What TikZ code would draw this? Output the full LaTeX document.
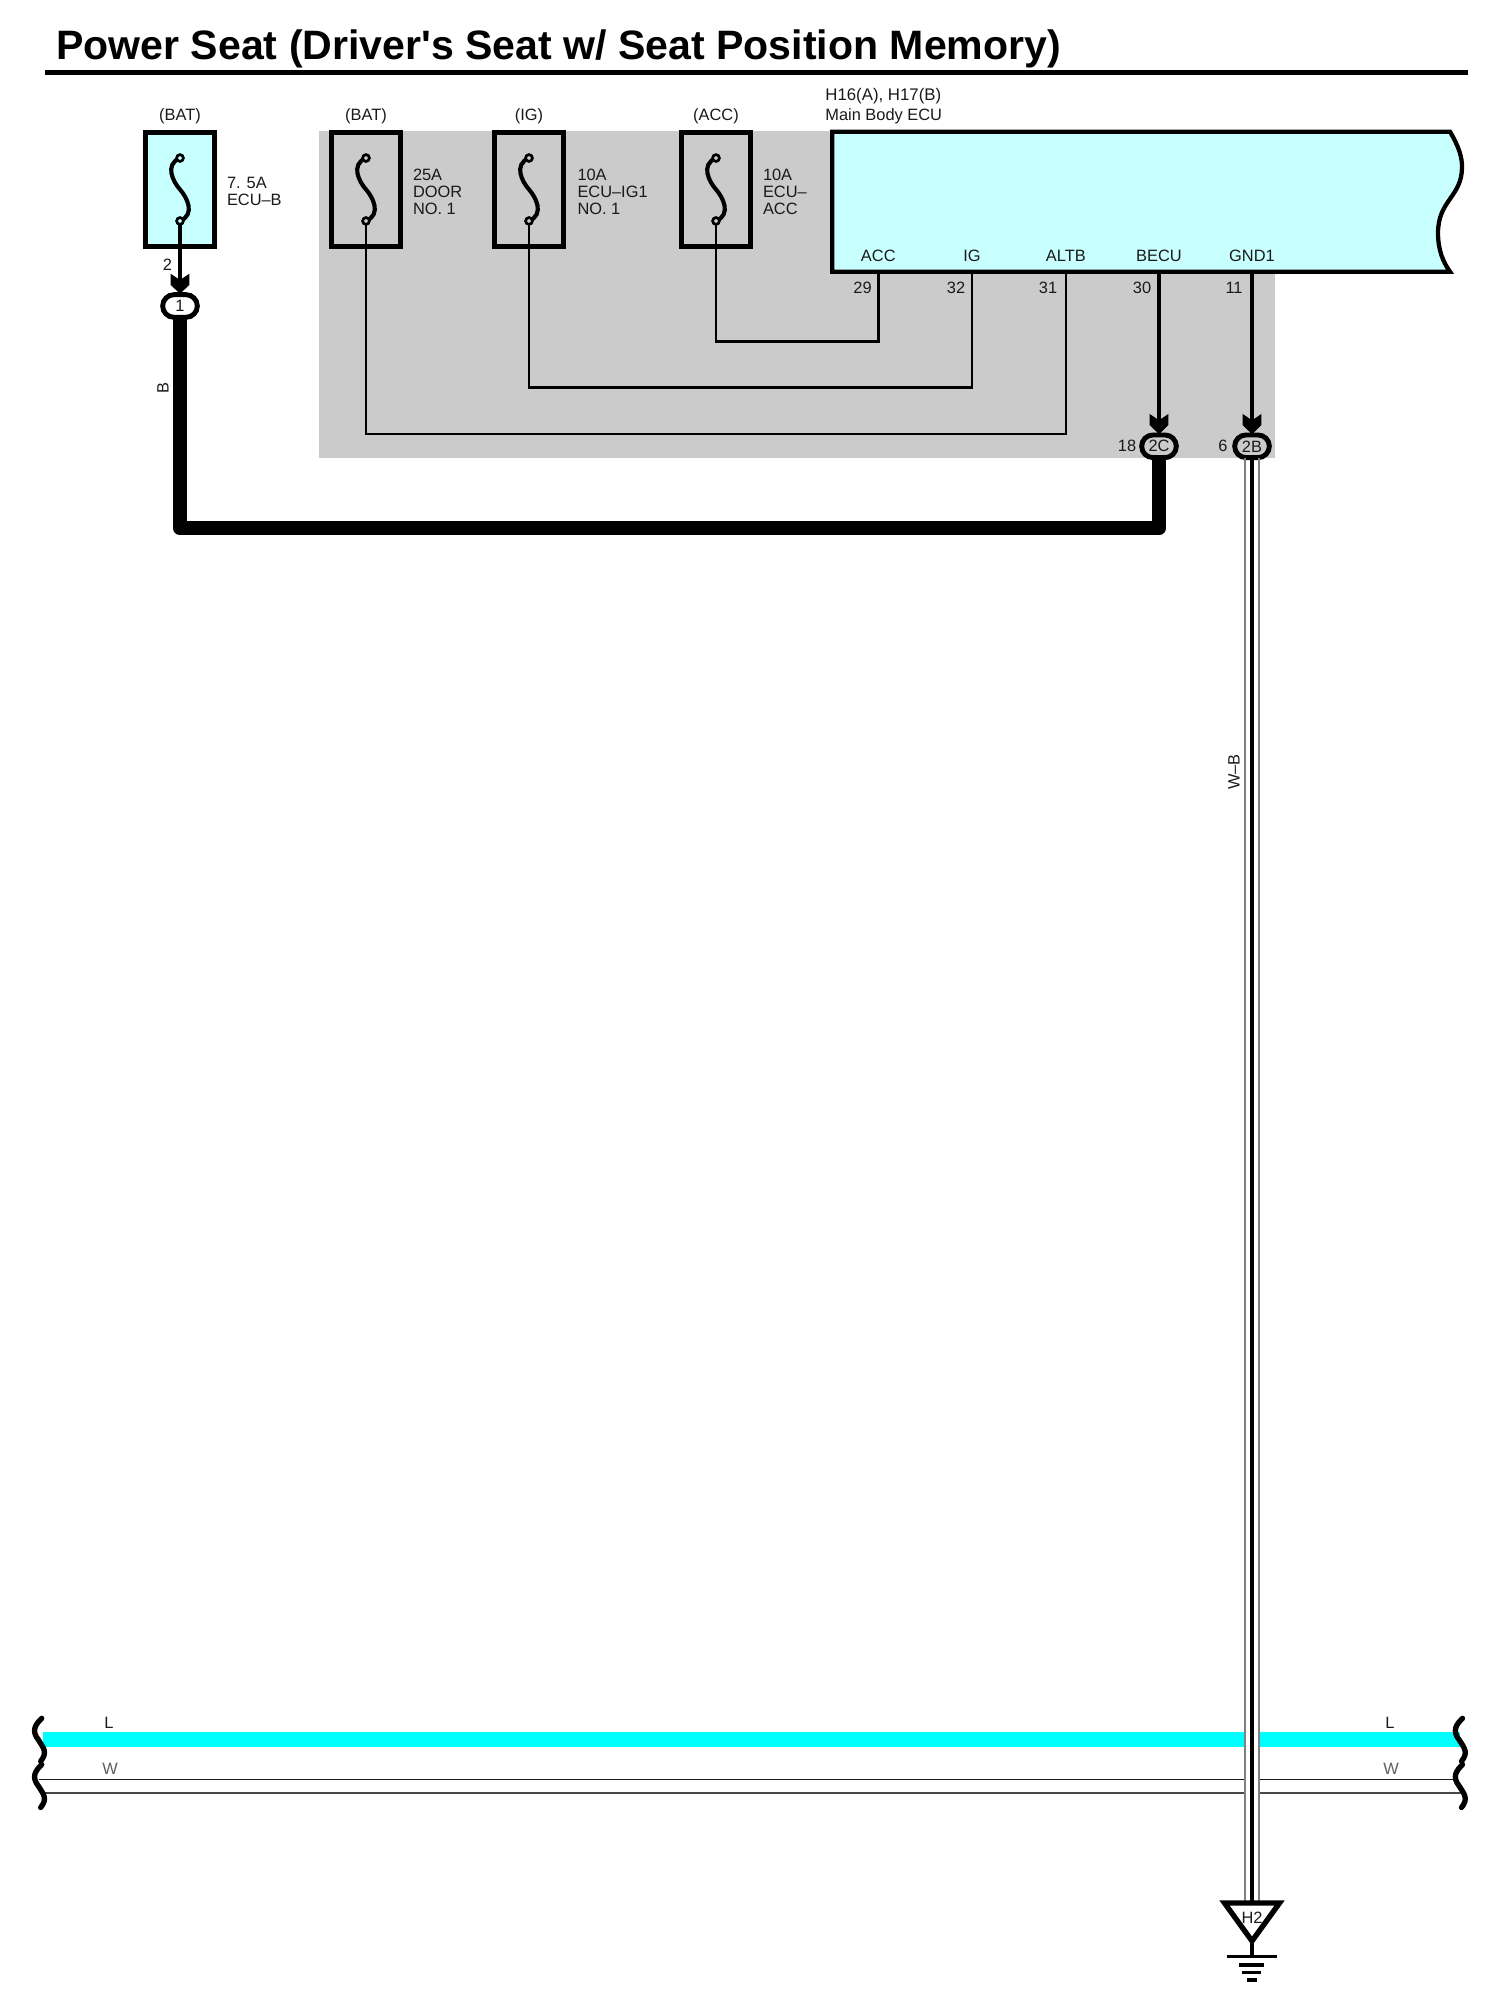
\documentclass[tikz,border=0pt]{standalone}
\usepackage{fontspec}
\setmainfont{Liberation Sans}
\newfontfamily\titlefont{Liberation Sans}
\usetikzlibrary{shapes.misc}
\definecolor{pale}{HTML}{C8FFFF}
\definecolor{zone}{HTML}{CBCBCB}
\definecolor{aqua}{HTML}{00FFFF}
\definecolor{ink}{HTML}{1A1A1A}
\definecolor{wgrey}{HTML}{808080}
\newcommand{\lblfont}{\fontsize{12.3}{12.9}\selectfont}
\tikzset{
  x=0.75pt,y=-0.75pt,
  fusebox/.style={draw=black,line width=3.7pt,minimum width=51.5pt,minimum height=86pt,inner sep=0pt,outer sep=0pt},
  fusepin/.style={circle,draw=black,line width=1.9pt,minimum size=5pt,inner sep=0pt,outer sep=0pt},
  fusecurve/.style={line width=3.1pt,black,line cap=round},
  wire/.style={draw=black,line width=2.1pt},
  heavywire/.style={draw=black,line width=2.4pt},
  thickwire/.style={draw=black,line width=11pt},
  conn/.style={rounded rectangle,draw=black,line width=3.7pt,minimum width=26pt,minimum height=17pt,inner sep=0pt,outer sep=0pt,text=ink,font=\lblfont},
  lbl/.style={inner sep=0pt,outer sep=0pt,text=ink,font=\lblfont},
  lblL/.style={lbl,anchor=west,align=left},
  brk/.style={draw=black,line width=4pt,line cap=round},
  gnd/.style={draw=black,line width=2.3pt},
  shieldout/.style={draw=wgrey,line width=1.5pt},
  shieldin/.style={draw=black,line width=3.2pt},
}
\newcommand{\fusesym}[2]{%
  \node[fusepin,fill=#2] (#1t) at ([yshift=23.6pt]#1.center) {};
  \node[fusepin,fill=#2] (#1b) at ([yshift=-23.6pt]#1.center) {};
  \draw[fusecurve] (#1t.center) .. controls ([xshift=-12pt,yshift=-5pt]#1t.center) and ([xshift=-5pt,yshift=-18pt]#1t.center) .. (#1.center)
     .. controls ([xshift=5pt,yshift=18pt]#1b.center) and ([xshift=12pt,yshift=5pt]#1b.center) .. (#1b.center);
  \node[fusepin,fill=#2] at (#1t.center) {};
  \node[fusepin,fill=#2] at (#1b.center) {};
}
\newcommand{\chev}[1]{%
  \fill[black] ([xshift=-7.1pt,yshift=15.8pt]#1.north) -- ([xshift=-7.1pt,yshift=7.5pt]#1.north) -- ([yshift=0.6pt]#1.north) -- ([xshift=7.1pt,yshift=7.5pt]#1.north) -- ([xshift=7.1pt,yshift=15.8pt]#1.north) -- ([yshift=11pt]#1.north) -- cycle;
}
\newcommand{\brkcurve}[2]{%
  \draw[brk,shift={(#1,#2)}] (0,0) .. controls (-6,6) and (-11,12) .. (-3,22) .. controls (2,30) and (6,34) .. (-1,43);
}
\begin{document}
\begin{tikzpicture}
\path[use as bounding box,fill=white] (0,0) rectangle (1504,1998);
% title
\node[anchor=base west,inner sep=0pt,font=\fontsize{30.8}{32}\titlefont\bfseries] (title) at (56,60) {Power Seat (Driver's Seat w/ Seat Position Memory)};
\coordinate (ruleL) at (45,72.4);
\coordinate (ruleR) at (1468,72.4);
\draw[black,line width=3.8pt] (ruleL) -- (ruleR);
% grey zone
\fill[zone] (319,131.5) rectangle (1275,457.5);
% fuses
\node[fusebox,fill=pale] (f1) at (180,189.5) {};
\node[fusebox] (f2) at (366,189.5) {};
\node[fusebox] (f3) at (529,189.5) {};
\node[fusebox] (f4) at (716,189.5) {};
\fusesym{f1}{pale}
\fusesym{f2}{zone}
\fusesym{f3}{zone}
\fusesym{f4}{zone}
\node[lbl] (s1) at (180,116) {(BAT)};
\node[lbl] (s2) at (366,116) {(BAT)};
\node[lbl] (s3) at (529,116) {(IG)};
\node[lbl] (s4) at (716,116) {(ACC)};
\node[lblL] (n1) at (227,191.5) {7. 5A\\ECU–B};
\node[lblL] (n2) at (413,192) {25A\\DOOR\\NO. 1};
\node[lblL] (n3) at (577.5,192) {10A\\ECU–IG1\\NO. 1};
\node[lblL] (n4) at (763,192) {10A\\ECU–\\ACC};
% ECU
\draw[black,line width=3.2pt,fill=pale] (832.3,131.7) -- (1450,131.7) .. controls (1459,147) and (1462,157) .. (1462,167) .. controls (1462,197) and (1438,200) .. (1438,233) .. controls (1438,250) and (1443,262) .. (1450,271.7) -- (832.3,271.7) -- cycle;
\node[lblL,font=\fontsize{12.6}{14}\selectfont] (ecuH) at (825.4,96.5) {H16(A), H17(B)};
\node[lblL] (ecuN) at (825.4,116) {Main Body ECU};
\coordinate (pACC) at (878.3,271.7);
\coordinate (pIG) at (972,271.7);
\coordinate (pALTB) at (1065.8,271.7);
\coordinate (pBECU) at (1159,271.7);
\coordinate (pGND) at (1252,271.7);
\foreach \nm/\tx/\xx in {tA/ACC/878.3,tB/IG/972,tC/ALTB/1065.8,tD/BECU/1159,tE/GND1/1252}{
  \node[lbl] (\nm) at (\xx,255.5) {\tx};
}
\foreach \nm/\tx/\xx in {uA/29/862.6,uB/32/956,uC/31/1048,uD/30/1142,uE/11/1234}{
  \node[lbl] (\nm) at (\xx,288) {\tx};
}
% wires in zone
\coordinate (j4) at (878.3,341.7);
\coordinate (j3) at (972,387.7);
\coordinate (j2) at (1065.8,434.3);
\draw[wire] (f4b.south) |- (j4) -- (pACC);
\draw[wire] (f3b.south) |- (j3) -- (pIG);
\draw[wire,line width=1.7pt] (f2b.south) |- (j2) -- (pALTB);
% connectors
\node[conn,fill=white] (c1) at (180,306) {1};
\node[conn,fill=zone] (c2C) at (1159,446.3) {2C};
\node[conn,fill=zone] (c2B) at (1252,446.3) {2B};
\draw[heavywire] (f1b.south) -- (c1.north);
\draw[heavywire] (pBECU) -- (c2C.north);
\draw[heavywire] (pGND) -- (c2B.north);
\chev{c1}
\chev{c2C}
\chev{c2B}
\node[lbl] (u2) at (167.5,265) {2};
\node[lbl] (u18) at (1127,446) {18};
\node[lbl] (u6) at (1223,446) {6};
% thick B wire
\coordinate (jbL) at (180,528);
\coordinate (jbR) at (1159,528);
\draw[thickwire,line join=round] (c1.south) -- (jbL) -- (jbR) -- (c2C.south);
\node[lbl,rotate=90] (wB) at (163,388) {B};
% L and W bus
\coordinate (LL) at (43,1739.7);
\coordinate (LR) at (1460,1739.7);
\draw[aqua,line width=11pt] (LL) -- (LR);
\coordinate (W1L) at (39,1779.3);
\coordinate (W1R) at (1458,1779.3);
\coordinate (W2L) at (44,1793);
\coordinate (W2R) at (1464,1793);
\draw[draw=ink,line width=0.95pt] (W1L) -- (W1R);
\draw[draw=ink!80,line width=0.95pt] (W2L) -- (W2R);
\fill[white] (1245,1725) rectangle (1259,1800);
\node[lbl] (tL1) at (109,1723) {L};
\node[lbl,text=ink!70] (tW1) at (110,1769) {W};
\node[lbl] (tL2) at (1390,1723) {L};
\node[lbl,text=ink!70] (tW2) at (1391,1769) {W};
\brkcurve{41.7}{1718.3}
\brkcurve{41.7}{1764.5}
\brkcurve{1462.5}{1718.3}
\brkcurve{1462.5}{1764.5}
% shielded W-B wire and ground
\coordinate (gT) at (1252,1903);
\coordinate (gTL) at (1224.5,1903);
\coordinate (gTR) at (1279.5,1903);
\coordinate (gB) at (1252,1941);
\coordinate (g1) at (1252,1956.7);
\draw[shieldout] ([xshift=-5.1pt]c2B.south) -- ([xshift=-5.1pt]gT);
\draw[shieldout] ([xshift=5.1pt]c2B.south) -- ([xshift=5.1pt]gT);
\draw[shieldin] (c2B.south) -- (gT);
\node[lbl,rotate=90] (wWB) at (1234,772) {W–B};
\draw[black,line width=4pt,fill=white,line join=miter] (gTL) -- (gTR) -- (gB) -- cycle;
\node[lbl] (tH2) at (1252,1918) {H2};
\draw[gnd] (gB) -- (g1);
\draw[gnd] (1226.7,1956.7) -- (1276.7,1956.7);
\draw[gnd] (1239,1965) -- (1264.3,1965);
\draw[gnd] (1242.3,1972.7) -- (1260.7,1972.7);
\draw[gnd] (1246.7,1980) -- (1257.3,1980);
\end{tikzpicture}
\end{document}
